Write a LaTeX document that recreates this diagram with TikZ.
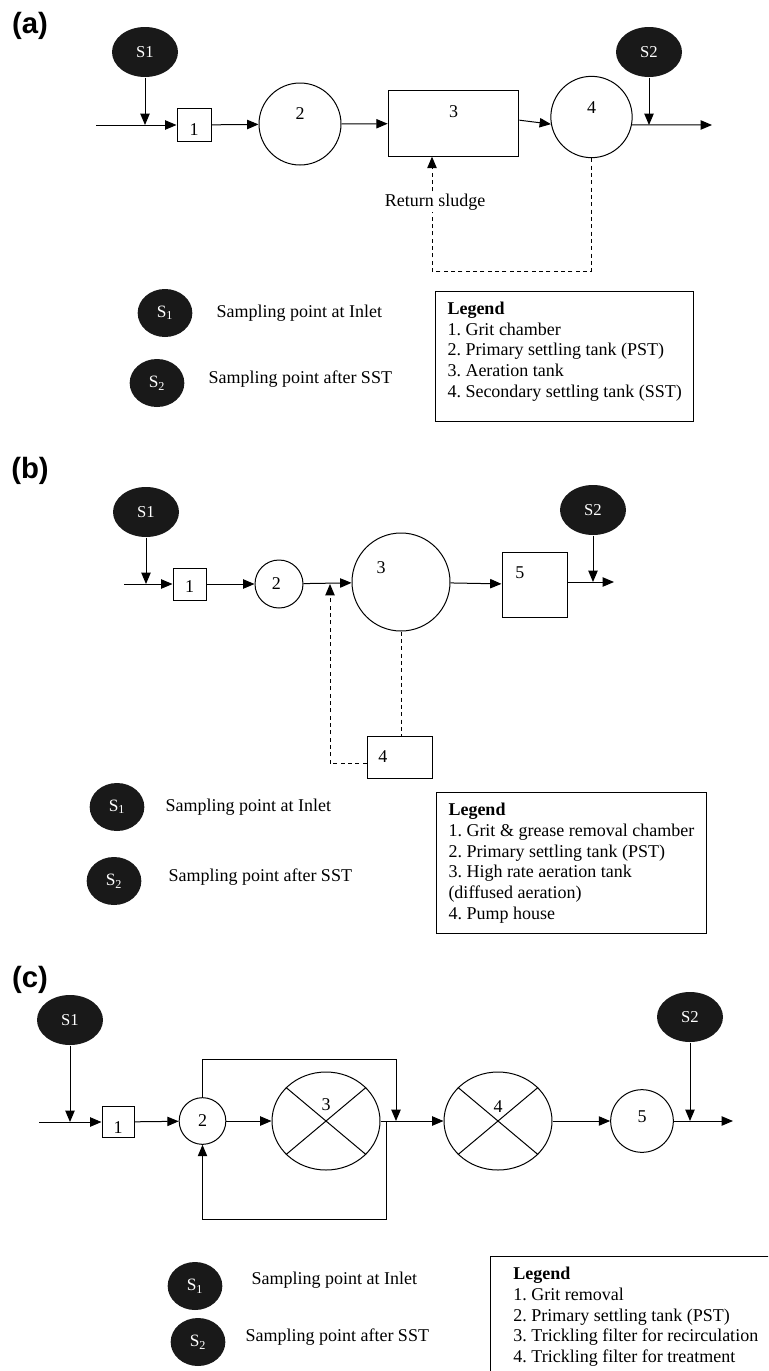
\documentclass[tikz,border=0pt]{standalone}
\usepackage{fontspec}
\setmainfont{Liberation Serif}
\setsansfont{Liberation Sans}
\usetikzlibrary{shapes.geometric,arrows.meta}

\begin{document}
\begin{tikzpicture}[x=0.75pt,y=-0.75pt,
    font=\fontsize{13.5}{15.5}\selectfont\frenchspacing,
    line width=0.75pt,
    smp/.style={ellipse, fill=black!90, text=white, inner sep=0pt,
      minimum width=49.5pt, minimum height=37.5pt, font=\fontsize{12.5}{14}\selectfont},
    keysmp/.style={smp, minimum width=41pt, minimum height=36pt, font=\fontsize{13}{14}\selectfont},
    tank/.style={circle, draw, inner sep=0pt},
    unit/.style={rectangle, draw, inner sep=0pt},
    filter/.style={ellipse, draw, inner sep=0pt, minimum width=81pt, minimum height=73.5pt},
    flow/.style={-{Triangle[length=8.5pt,width=7pt]}},
    sludge/.style={dash pattern=on 3pt off 2.5pt},
    txt/.style={anchor=west, inner sep=0pt},
    legend/.style={draw, anchor=north west, align=left, inner xsep=9pt, inner ysep=8pt},
    panel/.style={font=\sffamily\bfseries\fontsize{22}{24}\selectfont}]
  \clip (0,0) rectangle (768,1371);

  % (a) activated sludge
  \node[panel] (pa) at (30,26) {(a)};
  \node[smp] (s1a) at (145,52) {S1};
  \node[smp] (s2a) at (649,52) {S2};
  \coordinate (ina) at (96,125);
  \coordinate (outa) at (712,125);
  \node[unit, minimum width=25.5pt, minimum height=25pt, label={[yshift=-3.4pt]center:1}] (u1a) at (194,125) {};
  \node[tank, minimum size=61.5pt, label={[yshift=8pt]center:2}] (t2a) at (300,124) {};
  \node[unit, minimum width=98pt, minimum height=49pt, label={[yshift=8.6pt]center:3}] (u3a) at (453.5,123.5) {};
  \node[tank, minimum size=61pt, label={[yshift=6.8pt]center:4}] (t4a) at (591.5,117) {};
  \draw[flow] (ina) -- (u1a);
  \draw[flow] (s1a) -- (s1a |- ina);
  \draw[flow] (u1a) -- (t2a);
  \draw[flow] (t2a) -- (u3a);
  \draw[flow] ([yshift=2.5pt]u3a.east) -- (t4a.190);
  \draw[flow] (t4a.-11) -- (outa);
  \draw[flow] (s2a) -- (s2a |- outa);
  \coordinate (reta) at (432,271);
  \draw[sludge, flow] (t4a.south) |- (reta) -- (reta |- u3a.south);
  \node[fill=white, inner sep=1.5pt] (rsa) at (435,202) {Return sludge};

  \node[keysmp] (k1a) at (165,313) {S\textsubscript{1}};
  \node[keysmp] (k2a) at (157,383) {S\textsubscript{2}};
  \node[txt] (d1a) at (216,313) {Sampling point at Inlet};
  \node[txt] (d2a) at (208,379) {Sampling point after SST};
  \node[legend] (la) at (435,291) {\textbf{Legend}\\1. Grit chamber\\2. Primary settling tank (PST)\\3. Aeration tank\\4. Secondary settling tank (SST)\\[-5pt]\mbox{}};

  % (b) high rate aeration
  \node[panel] (pb) at (30,471) {(b)};
  \node[smp] (s1b) at (146,512) {S1};
  \node[smp] (s2b) at (593,510) {S2};
  \coordinate (inb) at (124,584);
  \coordinate (outb) at (614,582);
  \node[unit, minimum width=24.75pt, minimum height=24pt, label={[yshift=-2.2pt]center:1}] (u1b) at (189.5,584) {};
  \node[tank, minimum size=36pt, label={[xshift=-2pt]center:2}] (t2b) at (279,584) {};
  \node[tank, minimum size=73.5pt, label={[xshift=-15pt,yshift=10.5pt]center:3}] (t3b) at (401,582) {};
  \node[unit, minimum width=48.75pt, minimum height=31.5pt, label={[xshift=-12.4pt]center:4}] (u4b) at (399.5,757) {};
  \node[unit, minimum width=48.75pt, minimum height=48.75pt, label={[xshift=-10.9pt,yshift=8.6pt]center:5}] (u5b) at (534.5,584.5) {};
  \coordinate (retb) at (330,584);
  \draw[flow] (inb) -- (u1b);
  \draw[flow] (s1b) -- (s1b |- inb);
  \draw[flow] (u1b) -- (t2b);
  \draw[flow] (t2b) -- (t3b);
  \draw[flow] (t3b) -- (u5b);
  \draw[flow] (u5b.east |- outb) -- (outb);
  \draw[flow] (s2b) -- (s2b |- outb);
  \draw[sludge] (t3b.south) -- (t3b.south |- u4b.north);
  \draw[sludge, flow] ([yshift=-5pt]u4b.west) -| (retb);

  \node[keysmp] (k1b) at (117,807) {S\textsubscript{1}};
  \node[keysmp] (k2b) at (114,881) {S\textsubscript{2}};
  \node[txt] (d1b) at (165,807) {Sampling point at Inlet};
  \node[txt] (d2b) at (168,877) {Sampling point after SST};
  \node[legend] (lb) at (436,792) {\textbf{Legend}\\1. Grit \& grease removal chamber\\2. Primary settling tank (PST)\\3. High rate aeration tank\\(diffused aeration)\\4. Pump house};

  % (c) trickling filters
  \node[panel] (pc) at (30,980) {(c)};
  \node[smp] (s1c) at (70,1020) {S1};
  \node[smp] (s2c) at (690,1017) {S2};
  \coordinate (inc) at (39,1122);
  \coordinate (outc) at (733,1121);
  \node[unit, minimum width=24pt, minimum height=23.25pt, label={[yshift=-4pt]center:1}] (u1c) at (118,1122) {};
  \node[tank, minimum size=35pt] (t2c) at (202.5,1121) {2};
  \node[filter, label={[yshift=12pt]center:3}] (t3c) at (326,1121) {};
  \node[filter, label={[yshift=11pt]center:4}] (t4c) at (498,1121) {};
  \node[tank, minimum size=47pt, label={[yshift=3pt]center:5}] (t5c) at (642,1121) {};
  \foreach \f in {t3c,t4c}
    \draw (\f.140) -- (\f.-40) (\f.40) -- (\f.220);
  \draw[flow] (inc) -- (u1c);
  \draw[flow] (s1c) -- (s1c |- inc);
  \draw[flow] (u1c) -- (t2c);
  \draw[flow] (t2c) -- (t3c);
  \draw[flow] (t3c) -- (t4c);
  \draw[flow] (t4c) -- (t5c);
  \draw[flow] (t5c) -- (outc);
  \draw[flow] (s2c) -- (s2c |- outc);
  \coordinate (topc) at (396,1059);
  \coordinate (botc) at (386,1219);
  \draw[flow] (t2c.north) |- (topc) -- (topc |- t3c.east);
  \draw[flow] (botc |- t3c.east) -- (botc) -| (t2c.south);

  \node[keysmp] (k1c) at (195,1286) {S\textsubscript{1}};
  \node[keysmp] (k2c) at (198,1342) {S\textsubscript{2}};
  \node[txt] (d1c) at (251,1280) {Sampling point at Inlet};
  \node[txt] (d2c) at (245,1337) {Sampling point after SST};
  \node[legend, minimum width=218pt] (lc) at (490,1256) {\textbf{Legend}\\1. Grit removal\\2. Primary settling tank (PST)\\3. Trickling filter for recirculation\\4. Trickling filter for treatment\\[-5pt]\mbox{}};
\end{tikzpicture}
\end{document}
